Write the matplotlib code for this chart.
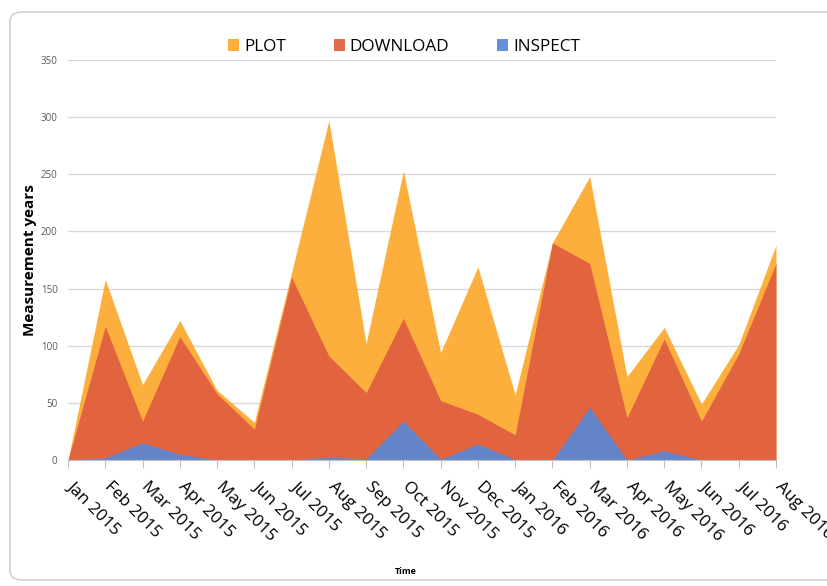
import matplotlib
matplotlib.use("Agg")
import matplotlib.pyplot as plt
import matplotlib.transforms as mtransforms
from matplotlib.patches import FancyBboxPatch
import numpy as np

months = ["Jan 2015", "Feb 2015", "Mar 2015", "Apr 2015", "May 2015", "Jun 2015",
          "Jul 2015", "Aug 2015", "Sep 2015", "Oct 2015", "Nov 2015", "Dec 2015",
          "Jan 2016", "Feb 2016", "Mar 2016", "Apr 2016", "May 2016", "Jun 2016",
          "Jul 2016", "Aug 2016"]
plot_vals = [0, 158, 66, 122, 61, 33, 164, 297, 102, 253, 94, 169, 57, 190, 248, 73, 116, 49, 101, 188]
download_vals = [0, 117, 34, 108, 58, 27, 160, 91, 59, 124, 52, 40, 22, 190, 172, 37, 106, 34, 93, 172]
inspect_vals = [0, 2, 15, 5, 0, 0, 0, 2.5, 1, 34, 0.6, 14, 0.5, 0, 46, 0, 8, 0, 0.5, 0]

colors = {"PLOT": "#FDA92E", "DOWNLOAD": "#E05F3F", "INSPECT": "#5B87D6"}
font = "Open Sans"

fig = plt.figure(figsize=(8.28, 5.86), dpi=100)
fig.patch.set_facecolor("white")
border = FancyBboxPatch((10 / 828, 6 / 586), 840 / 828, 568 / 586,
                        boxstyle="round,pad=0,rounding_size=0.015",
                        transform=fig.transFigure, facecolor="none",
                        edgecolor="#c8c8c8", linewidth=1.0, zorder=-1)
fig.patches.append(border)

ax = fig.add_axes([68 / 828, 1 - 460 / 586, (776 - 68) / 828, 400 / 586])
ax.set_facecolor("none")
x = np.arange(len(months))
ax.fill_between(x, plot_vals, color=colors["PLOT"], alpha=0.93, linewidth=0, label="PLOT", zorder=2)
ax.fill_between(x, download_vals, color=colors["DOWNLOAD"], alpha=0.93, linewidth=0, label="DOWNLOAD", zorder=3)
ax.fill_between(x, inspect_vals, color=colors["INSPECT"], alpha=0.93, linewidth=0, label="INSPECT", zorder=4)

ax.set_xlim(0, len(months) - 1)
ax.set_ylim(0, 350)
ax.set_yticks(np.arange(0, 351, 50))
ax.yaxis.grid(True, color="#d9d9d9", linewidth=1.0, zorder=1)
ax.set_axisbelow(True)
for s in ["top", "right", "left"]:
    ax.spines[s].set_visible(False)
ax.spines["bottom"].set_color("#bfbfbf")
ax.spines["bottom"].set_zorder(5)
ax.tick_params(axis="y", length=0, pad=7.5, labelsize=7, labelcolor="#595959")
ax.tick_params(axis="x", length=6, color="#bfbfbf", pad=8)
ax.set_xticks(x)
ax.set_xticklabels(months, rotation=-45, ha="left", va="top", rotation_mode="anchor",
                   fontsize=12.3, family=font)
for lbl in ax.get_xticklabels():
    lbl.set_transform(lbl.get_transform() + mtransforms.ScaledTranslation(7 / 100, 1 / 100, fig.dpi_scale_trans))
for lbl in ax.get_yticklabels():
    lbl.set_family(font)

ax.set_ylabel("Measurement years", fontsize=11, fontweight="bold", family=font, labelpad=3)
fig.text(406 / 828, 1 - 571 / 586, "Time", fontsize=6.5, fontweight="bold", family=font,
         ha="center", va="center")

leg = fig.legend(loc="center", bbox_to_anchor=(404 / 828, 1 - 47 / 586), ncol=3, frameon=False,
                 prop={"family": font, "size": 12.3}, handlelength=0.65, handleheight=0.65,
                 handletextpad=0.3, columnspacing=2.8)

fig.savefig("out.png", dpi=100)
